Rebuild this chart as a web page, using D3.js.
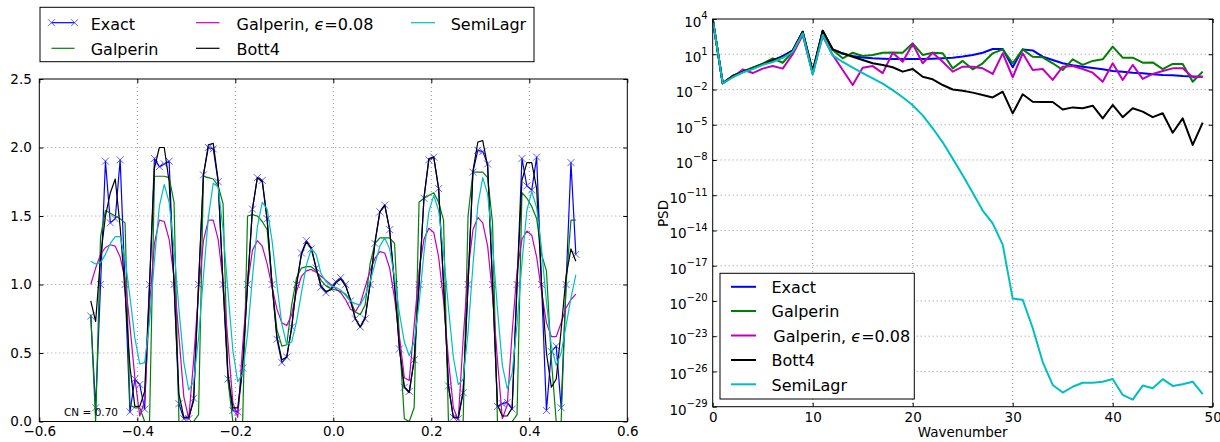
<!DOCTYPE html>
<html><head><meta charset="utf-8">
<script src="https://cdn.jsdelivr.net/npm/d3@7/dist/d3.min.js"></script>
<style>
html,body{margin:0;padding:0;background:#fff;}
svg{display:block;font-family:"DejaVu Sans",sans-serif;}
</style></head><body>
<svg id="chart" width="1220" height="442"></svg>
<script>
// ---------------- DATA: left panel (solution profiles) ----------------
const xPos=[-0.495,-0.485,-0.475,-0.465,-0.455,-0.445,-0.435,-0.425,-0.415,-0.405,
-0.395,-0.385,-0.375,-0.365,-0.355,-0.345,-0.335,-0.325,-0.315,-0.305,
-0.295,-0.285,-0.275,-0.265,-0.255,-0.245,-0.235,-0.225,-0.215,-0.205,
-0.195,-0.185,-0.175,-0.165,-0.155,-0.145,-0.135,-0.125,-0.115,-0.105,
-0.095,-0.085,-0.075,-0.065,-0.055,-0.045,-0.035,-0.025,-0.015,-0.005,
0.005,0.015,0.025,0.035,0.045,0.055,0.065,0.075,0.085,0.095,
0.105,0.115,0.125,0.135,0.145,0.155,0.165,0.175,0.185,0.195,
0.205,0.215,0.225,0.235,0.245,0.255,0.265,0.275,0.285,0.295,
0.305,0.315,0.325,0.335,0.345,0.355,0.365,0.375,0.385,0.395,
0.405,0.415,0.425,0.435,0.445,0.455,0.465,0.475,0.485,0.495];
const exact=[0.77,0.10,1.00,1.90,1.45,1.48,1.91,1.00,0.07,0.31,
0.27,0.09,1.00,1.92,1.86,1.88,1.90,1.00,0.13,0.02,
0.02,0.17,1.00,1.80,2.00,1.99,1.75,1.00,0.31,0.08,
0.07,0.39,1.00,1.55,1.78,1.76,1.48,1.00,0.60,0.43,
0.47,0.69,1.00,1.23,1.32,1.26,1.12,0.98,0.94,0.97,
1.02,1.05,1.00,0.88,0.75,0.69,0.75,1.00,1.30,1.53,
1.58,1.40,1.00,0.53,0.25,0.22,0.45,1.00,1.63,1.91,
1.93,1.70,1.00,0.26,0.03,0.02,0.21,1.00,1.82,1.98,
1.97,1.88,1.00,0.11,0.13,0.14,0.09,1.00,1.92,1.72,
1.69,1.93,1.00,0.08,0.51,0.55,0.10,1.00,1.89,1.22];
const galperin=[0.78,0.00,1.35,1.54,1.52,1.50,1.48,1.45,0.12,0.10,
0.10,0.00,0.00,1.79,1.79,1.79,1.78,1.60,0.00,0.00,
0.00,0.00,0.05,1.79,1.78,1.77,1.72,1.59,0.30,0.00,
0.00,0.00,1.50,1.51,1.50,1.46,1.40,1.00,0.67,0.55,
0.56,0.85,1.05,1.12,1.13,1.13,1.10,1.03,0.99,0.97,
0.96,0.95,0.93,0.88,0.80,0.78,0.85,1.15,1.30,1.34,
1.34,1.34,1.30,0.60,0.02,0.00,0.10,1.60,1.63,1.65,
1.67,1.60,1.47,0.00,0.00,0.00,0.00,1.50,1.82,1.82,
1.82,1.78,1.45,0.00,0.00,0.00,0.00,0.05,1.67,1.63,
1.57,1.48,1.22,1.10,0.45,0.00,0.00,1.00,1.47,1.47];
const galperinEps=[1.00,1.12,1.22,1.27,1.29,1.28,1.20,1.04,0.70,0.32,
0.04,0.15,0.85,1.30,1.47,1.46,1.33,1.05,0.62,0.18,
0.02,0.45,0.95,1.32,1.47,1.47,1.33,1.02,0.58,0.14,
0.03,0.55,1.00,1.25,1.32,1.28,1.15,0.98,0.82,0.72,
0.70,0.78,0.95,1.06,1.10,1.11,1.09,1.06,1.03,1.00,
0.97,0.94,0.89,0.82,0.80,0.86,0.98,1.10,1.19,1.24,
1.23,1.12,0.90,0.62,0.32,0.30,0.70,1.10,1.33,1.41,
1.38,1.20,0.88,0.45,0.10,0.01,0.60,1.10,1.40,1.49,
1.45,1.28,0.92,0.45,0.02,0.12,0.65,1.10,1.33,1.39,
1.36,1.20,0.95,0.72,0.62,0.62,0.72,0.83,0.89,0.93];
const bott4=[0.88,0.73,1.20,1.50,1.67,1.77,1.42,0.95,0.40,0.11,
0.11,0.22,1.00,1.85,2.00,2.00,1.75,1.00,0.20,0.03,
0.03,0.15,1.00,1.80,2.02,2.03,1.76,1.00,0.35,0.10,
0.10,0.40,1.00,1.55,1.78,1.75,1.47,1.00,0.62,0.45,
0.47,0.68,1.00,1.22,1.31,1.27,1.12,0.99,0.95,0.96,
1.01,1.04,0.99,0.89,0.75,0.69,0.76,1.00,1.31,1.53,
1.58,1.40,1.00,0.53,0.25,0.21,0.45,1.00,1.63,1.92,
1.93,1.70,1.00,0.26,0.03,0.03,0.22,1.00,1.83,2.04,
2.05,1.86,1.00,0.12,0.04,0.04,0.10,1.00,1.76,1.89,
1.89,1.70,1.00,0.50,0.25,0.31,0.67,1.06,1.26,1.17];
const semiLagr=[1.17,1.15,1.16,1.22,1.30,1.35,1.35,1.19,0.91,0.61,
0.42,0.43,0.73,1.18,1.57,1.73,1.60,1.26,0.82,0.43,
0.23,0.29,0.61,1.06,1.49,1.74,1.71,1.40,0.95,0.52,
0.29,0.35,0.64,1.05,1.42,1.60,1.55,1.32,1.00,0.71,
0.56,0.58,0.73,0.94,1.14,1.26,1.22,1.08,1.02,0.99,
0.98,0.96,0.92,0.88,0.86,0.85,0.92,1.02,1.15,1.28,
1.34,1.26,1.05,0.79,0.58,0.48,0.58,0.86,1.23,1.53,
1.65,1.54,1.23,0.83,0.47,0.27,0.31,0.65,1.14,1.58,
1.78,1.66,1.29,0.82,0.41,0.24,0.35,0.71,1.16,1.54,
1.68,1.56,1.26,0.87,0.55,0.41,0.50,0.70,0.90,1.07];
const leftXTicks=[-0.6,-0.4,-0.2,0,0.2,0.4,0.6];
const leftXTickLabels=["\u22120.6","\u22120.4","\u22120.2","0.0","0.2","0.4","0.6"];
const leftYTicks=[0,0.5,1,1.5,2,2.5];
const leftYTickLabels=["0.0","0.5","1.0","1.5","2.0","2.5"];

// ---------------- DATA: right panel (PSD) ----------------
const wavenumber=[0,1,2,3,4,5,6,7,8,9,10,11,12,13,14,15,16,17,18,19,20,21,22,23,24,25,26,27,28,29,30,31,32,33,34,35,36,37,38,39,40,41,42,43,44,45,46,47,48,49];
const psdExact=[1e4,3.4e-2,0.14,0.32,0.71,1.4,2.8,7.1,20,830,
0.24,1000,26,11,7.1,5.2,4.5,4.2,4.0,4.0,
4.0,4.0,4.2,4.5,5.0,6.3,8.7,13.5,28,28,
0.79,26,21,6.2,3.2,1.7,1.17,0.87,0.66,0.52,
0.38,0.32,0.27,0.24,0.2,0.17,0.16,0.14,0.13,0.12];
const psdGalperin=[1e4,3.4e-2,0.14,0.32,0.71,1.6,4.5,1.9,16,790,
0.28,890,23,4.5,13.5,7.1,8.7,13.5,14,13.5,
85,8.7,13.5,12,0.63,2.7,0.52,1.7,12,26,
1.7,26,6.2,5.5,1.7,0.46,3.7,1.23,2.7,3.7,
45,5.1,5.1,1.9,2.0,0.55,1.5,1.5,0.046,0.33];
const psdGalperinEps=[1e4,3.4e-2,0.11,0.5,0.25,0.6,1.0,0.6,10,440,
0.21,355,8.7,0.46,0.024,0.71,0.98,0.25,13.5,2.3,
76,1.7,13.5,2.3,0.33,0.87,0.87,0.63,0.21,12,
0.11,12,0.46,0.55,0.065,0.87,1.0,0.55,0.27,0.046,
1.7,0.065,1.23,0.079,0.21,0.37,0.63,0.63,0.11,0.12];
const psdBott4=[1e4,3.4e-2,0.14,0.32,0.63,1.4,3.2,5.6,22,830,
0.4,1000,26,12,6.2,3.2,1.7,1.23,0.78,0.33,
0.55,0.12,0.074,0.024,0.01,7.9e-3,5.4e-3,3.4e-3,2.1e-3,6.5e-3,
9.3e-5,3.9e-3,9.1e-4,8.5e-4,8.5e-4,2.0e-4,3.0e-4,2.5e-4,4.2e-4,3.5e-5,
4.8e-4,4.4e-5,2.5e-4,1.3e-4,4.4e-5,9.5e-5,2.1e-6,3.5e-5,1.9e-7,1.5e-5];
const psdSemiLagr=[1e4,3.4e-2,0.11,0.28,0.56,1.26,2.2,5.0,16,600,
0.2,440,7.9,2.2,0.71,0.25,0.089,0.032,8.9e-3,2.2e-3,
4.5e-4,6.3e-5,5e-6,3.2e-7,1.3e-8,5e-10,1.6e-11,5e-13,4e-14,6.3e-16,
1.6e-20,1.26e-20,5e-23,6.3e-26,7.1e-28,1.6e-28,5e-28,1.1e-27,1.1e-27,1.35e-27,
2.3e-27,1e-28,4e-29,6.3e-28,3.7e-28,2.2e-27,5.9e-28,8.1e-28,1.35e-27,1.15e-28];
const rightXTicks=[0,10,20,30,40,50];
const rightXTickLabels=["0","10","20","30","40","50"];
const rightYTicks=[1e4,1e1,1e-2,1e-5,1e-8,1e-11,1e-14,1e-17,1e-20,1e-23,1e-26,1e-29];
const rightYExp=["4","1","\u22122","\u22125","\u22128","\u221211","\u221214","\u221217","\u221220","\u221223","\u221226","\u221229"];

const seriesNames=["Exact","Galperin","Galperin, \u03f5=0.08","Bott4","SemiLagr"];
const colors=["#0000ff","#008000","#bf00bf","#000000","#00bfbf"];

// ---------------- DRAWING ----------------
const svg=d3.select('#chart');
const TICKFS='13.5px';

function styleAxis(g){
  g.select('.domain').remove();
  g.selectAll('.tick line').attr('stroke','#000').attr('stroke-width',1);
  g.selectAll('.tick text').attr('fill','#000').style('font-size',TICKFS).style('font-family','"DejaVu Sans",sans-serif');
}
function grid(g,xv,yv,sx,sy,box){
  g.append('g').selectAll('line').data(xv).join('line')
   .attr('x1',d=>sx(d)).attr('x2',d=>sx(d)).attr('y1',box.y0).attr('y2',box.y1)
   .attr('stroke','#8a8a8a').attr('stroke-width',0.9).attr('stroke-dasharray','1,3');
  g.append('g').selectAll('line').data(yv).join('line')
   .attr('y1',d=>sy(d)).attr('y2',d=>sy(d)).attr('x1',box.x0).attr('x2',box.x1)
   .attr('stroke','#8a8a8a').attr('stroke-width',0.9).attr('stroke-dasharray','1,3');
}

// ---- Left panel
const LB={x0:39.3,x1:627.3,y0:79,y1:421.5};
const lx=d3.scaleLinear().domain([-0.6,0.6]).range([LB.x0,LB.x1]);
const ly=d3.scaleLinear().domain([0,2.5]).range([LB.y1,LB.y0]);
const gL=svg.append('g');
grid(gL,leftXTicks.slice(1,-1),leftYTicks.slice(1,-1),lx,ly,LB);
svg.append('clipPath').attr('id','clipL').append('rect')
  .attr('x',LB.x0).attr('y',LB.y0).attr('width',LB.x1-LB.x0).attr('height',LB.y1-LB.y0);
const plotL=gL.append('g').attr('clip-path','url(#clipL)');
const lineL=d3.line().x((d,i)=>lx(xPos[i])).y(d=>ly(d));
const leftSeries=[exact,galperin,galperinEps,bott4,semiLagr];
leftSeries.forEach((s,k)=>{
  plotL.append('path').datum(s).attr('d',lineL).attr('fill','none')
    .attr('stroke',colors[k]).attr('stroke-width',1.2).attr('stroke-linejoin','round');
  if(k===0){
    const m=3.5;
    plotL.append('g').selectAll('path').data(s).join('path')
      .attr('d',(d,i)=>{const x=lx(xPos[i]),y=ly(d);return `M${x-m},${y-m}L${x+m},${y+m}M${x-m},${y+m}L${x+m},${y-m}`;})
      .attr('stroke','#2f2fff').attr('stroke-width',0.9).attr('fill','none').attr('opacity',0.85);
  }
});
gL.append('text').attr('x',64).attr('y',415.8).style('font-size','10.5px').attr('fill','#000').text('CN = 0.70');
// axes
gL.append('g').attr('transform',`translate(0,${LB.y1})`)
  .call(d3.axisBottom(lx).tickValues(leftXTicks).tickFormat((d,i)=>leftXTickLabels[i]).tickSizeInner(-4).tickSizeOuter(0).tickPadding(5.3)).call(styleAxis);
gL.append('g').attr('transform',`translate(0,${LB.y0})`)
  .call(d3.axisTop(lx).tickValues(leftXTicks).tickFormat('').tickSizeInner(-4).tickSizeOuter(0)).call(styleAxis);
gL.append('g').attr('transform',`translate(${LB.x0},0)`)
  .call(d3.axisLeft(ly).tickValues(leftYTicks).tickFormat((d,i)=>leftYTickLabels[i]).tickSizeInner(-4).tickSizeOuter(0).tickPadding(7.5)).call(styleAxis);
gL.append('g').attr('transform',`translate(${LB.x1},0)`)
  .call(d3.axisRight(ly).tickValues(leftYTicks).tickFormat('').tickSizeInner(-4).tickSizeOuter(0)).call(styleAxis);
gL.append('rect').attr('x',LB.x0).attr('y',LB.y0).attr('width',LB.x1-LB.x0).attr('height',LB.y1-LB.y0)
  .attr('fill','none').attr('stroke','#000').attr('stroke-width',1);

// left legend
const legL=svg.append('g');
legL.append('rect').attr('x',40).attr('y',7.3).attr('width',494).attr('height',54.4)
  .attr('fill','#fff').attr('stroke','#000').attr('stroke-width',1);
const legLItems=[
  {k:0,x1:51.5,x2:74.5,tx:90.7,y:22.7},
  {k:1,x1:51.5,x2:74.5,tx:90.7,y:48.3},
  {k:2,x1:196,x2:219.5,tx:236.5,y:22.7},
  {k:3,x1:196,x2:219.5,tx:236.5,y:48.3},
  {k:4,x1:411,x2:435,tx:450.7,y:22.7}];
legLItems.forEach(it=>{
  legL.append('line').attr('x1',it.x1).attr('x2',it.x2).attr('y1',it.y).attr('y2',it.y)
    .attr('stroke',colors[it.k]).attr('stroke-width',1.2);
  if(it.k===0){
    [it.x1,it.x2].forEach(x=>{const m=3.5;
      legL.append('path').attr('d',`M${x-m},${it.y-m}L${x+m},${it.y+m}M${x-m},${it.y+m}L${x+m},${it.y-m}`)
        .attr('stroke','#2f2fff').attr('stroke-width',0.9).attr('opacity',0.85);});
  }
  const t=legL.append('text').attr('x',it.tx).attr('y',it.y+6.8).style('font-size','16px').attr('fill','#000');
  if(it.k===2){t.append('tspan').text('Galperin, ');t.append('tspan').style('font-style','italic').text('\u03f5');t.append('tspan').text('=0.08');}
  else t.text(seriesNames[it.k]);
});

// ---- Right panel
const RB={x0:712.7,x1:1212.7,y0:19,y1:406.7};
const rx=d3.scaleLinear().domain([0,50]).range([RB.x0,RB.x1]);
const ry=d3.scaleLog().domain([1e-29,1e4]).range([RB.y1,RB.y0]);
const gR=svg.append('g');
grid(gR,rightXTicks.slice(1,-1),rightYTicks.slice(1,-1),rx,ry,RB);
svg.append('clipPath').attr('id','clipR').append('rect')
  .attr('x',RB.x0).attr('y',RB.y0).attr('width',RB.x1-RB.x0).attr('height',RB.y1-RB.y0);
const plotR=gR.append('g').attr('clip-path','url(#clipR)');
const lineR=d3.line().x((d,i)=>rx(wavenumber[i])).y(d=>ry(d));
[psdExact,psdGalperin,psdGalperinEps,psdBott4,psdSemiLagr].forEach((s,k)=>{
  plotR.append('path').datum(s).attr('d',lineR).attr('fill','none')
    .attr('stroke',colors[k]).attr('stroke-width',2).attr('stroke-linejoin','round');
});
gR.append('g').attr('transform',`translate(0,${RB.y1})`)
  .call(d3.axisBottom(rx).tickValues(rightXTicks).tickFormat((d,i)=>rightXTickLabels[i]).tickSizeInner(-4).tickSizeOuter(0).tickPadding(5.3)).call(styleAxis);
gR.append('g').attr('transform',`translate(0,${RB.y0})`)
  .call(d3.axisTop(rx).tickValues(rightXTicks).tickFormat('').tickSizeInner(-4).tickSizeOuter(0)).call(styleAxis);
const yAxR=gR.append('g').attr('transform',`translate(${RB.x0},0)`)
  .call(d3.axisLeft(ry).tickValues(rightYTicks).tickFormat('').tickSizeInner(-4).tickSizeOuter(0)).call(styleAxis);
yAxR.selectAll('.tick').each(function(d,i){
  const t=d3.select(this).append('text').attr('x',-5).attr('y',0).attr('text-anchor','end').attr('fill','#000')
    .style('font-family','"DejaVu Sans",sans-serif');
  t.append('tspan').attr('dy',7.4).style('font-size',TICKFS).text('10');
  t.append('tspan').attr('dy',-7.6).style('font-size','10px').text(rightYExp[i]);
});
gR.append('g').attr('transform',`translate(${RB.x1},0)`)
  .call(d3.axisRight(ry).tickValues(rightYTicks).tickFormat('').tickSizeInner(-4).tickSizeOuter(0)).call(styleAxis);
gR.append('rect').attr('x',RB.x0).attr('y',RB.y0).attr('width',RB.x1-RB.x0).attr('height',RB.y1-RB.y0)
  .attr('fill','none').attr('stroke','#000').attr('stroke-width',1);
gR.append('text').attr('x',(RB.x0+RB.x1)/2).attr('y',436.5).attr('text-anchor','middle')
  .style('font-size',TICKFS).attr('fill','#000').text('Wavenumber');
gR.append('text').attr('transform','translate(668,213.5) rotate(-90)').attr('text-anchor','middle')
  .style('font-size',TICKFS).attr('fill','#000').text('PSD');

// right legend
const legR=svg.append('g');
legR.append('rect').attr('x',720).attr('y',273.3).attr('width',194.3).attr('height',125.7)
  .attr('fill','#fff').attr('stroke','#000').attr('stroke-width',1);
const legRY=[286.8,311,335.5,360,384.3];
seriesNames.forEach((n,k)=>{
  legR.append('line').attr('x1',731).attr('x2',756).attr('y1',legRY[k]).attr('y2',legRY[k])
    .attr('stroke',colors[k]).attr('stroke-width',2);
  const t=legR.append('text').attr('x',k===2?773.3:771.5).attr('y',legRY[k]+6.3).style('font-size','16px').attr('fill','#000');
  if(k===2){t.append('tspan').text('Galperin, ');t.append('tspan').style('font-style','italic').text('\u03f5');t.append('tspan').text('=0.08');}
  else t.text(n);
});
</script>
</body></html>
